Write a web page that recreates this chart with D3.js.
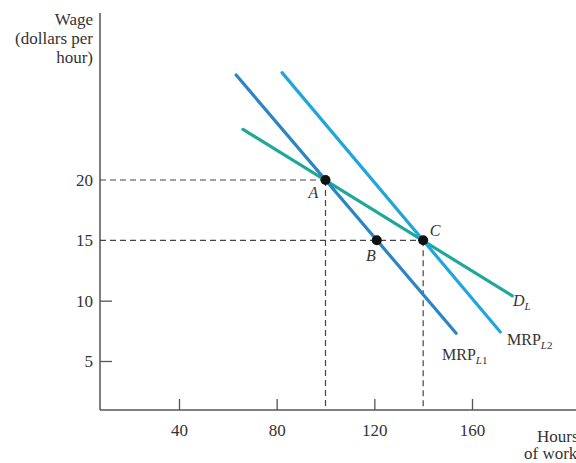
<!DOCTYPE html>
<html><head><meta charset="utf-8">
<script src="https://cdn.jsdelivr.net/npm/d3@7"></script>
<style>
body{margin:0;background:#fff;}
svg text{font-family:"Liberation Serif","Times New Roman",serif;fill:#333;}
</style></head>
<body><svg id="c" width="576" height="463"></svg>
<script>
// ---- data ----
const xTicks = [40, 80, 120, 160];
const yTicks = [5, 10, 15, 20];
const mrpL1 = [[63.4, 28.7], [153.5, 7.3]];
const mrpL2 = [[82.2, 28.9], [171.6, 7.4]];
const demandL = [[66.2, 24.2], [176.5, 10.4]];
const pointNames = ["A", "B", "C"];
const pointHours = [100, 121, 140];
const pointWages = [20, 15, 15];

const svg = d3.select("#c");
const x = d3.scaleLinear().domain([40, 160]).range([179, 472]);
const y = d3.scaleLinear().domain([5, 20]).range([361, 180]);
const x0 = x.invert(100), x1 = x.invert(576);
const y0 = y.invert(410), y1 = y.invert(13);

const axisColor = "#555";
const tickFont = 17;
// x axis
const gx = svg.append("g").attr("transform", `translate(0,${y(y0)})`)
  .call(d3.axisBottom(x).tickValues(xTicks).tickSize(-11).tickPadding(15).tickSizeOuter(0));
gx.select(".domain").remove();
gx.selectAll("line").attr("stroke", axisColor).attr("stroke-width", 1.3);
gx.attr("font-size", tickFont);
gx.selectAll("text").attr("font-size", tickFont).attr("fill", "#333").attr("dy", "0.62em")
  .style("font-family", '"Liberation Serif",serif');
svg.append("line").attr("x1", x(x0)).attr("x2", x(x1)).attr("y1", y(y0)).attr("y2", y(y0))
  .attr("stroke", axisColor).attr("stroke-width", 1.5);

// y axis
const gy = svg.append("g").attr("transform", `translate(${x(x0)},0)`)
  .call(d3.axisLeft(y).tickValues(yTicks).tickSize(-12).tickPadding(7).tickSizeOuter(0));
gy.select(".domain").remove();
gy.attr("font-size", tickFont);
gy.selectAll(".tick line").attr("stroke", axisColor).attr("stroke-width", 1.3)
  .attr("opacity", d => d >= 15 ? 0 : 1);
gy.selectAll("text").attr("font-size", tickFont).attr("fill", "#333")
  .style("font-family", '"Liberation Serif",serif');
svg.append("line").attr("x1", x(x0)).attr("x2", x(x0)).attr("y1", y(y1)).attr("y2", y(y0))
  .attr("stroke", axisColor).attr("stroke-width", 1.5);

// axis titles
const yt = svg.append("text").attr("text-anchor", "end").attr("font-size", 17);
yt.append("tspan").attr("x", 93).attr("y", 25).text("Wage");
yt.append("tspan").attr("x", 93).attr("y", 44).text("(dollars per");
yt.append("tspan").attr("x", 93).attr("y", 63).text("hour)");
svg.append("text").attr("x", 537).attr("y", 442).attr("font-size", 17).text("Hours");
svg.append("text").attr("x", 524).attr("y", 459).attr("font-size", 17).text("of work");

// dashed guides
const pts = pointNames.map((n, i) => ({n, h: pointHours[i], w: pointWages[i]}));
const dash = svg.append("g").attr("stroke", "#444").attr("stroke-width", 1.2).attr("stroke-dasharray", "6,4");
[pts[0], pts[2]].forEach(p => {
  dash.append("line").attr("x1", x(x0)).attr("x2", x(p.h)).attr("y1", y(p.w)).attr("y2", y(p.w));
  dash.append("line").attr("x1", x(p.h)).attr("x2", x(p.h)).attr("y1", y(p.w)).attr("y2", y(y0));
});

// curves
const line = d3.line().x(d => x(d[0])).y(d => y(d[1]));
const curves = [
  {d: demandL, c: "#1fa89a"},
  {d: mrpL2, c: "#1ea6dd"},
  {d: mrpL1, c: "#2a85c6"}
];
curves.forEach(cv => svg.append("path").attr("d", line(cv.d)).attr("fill", "none")
  .attr("stroke", cv.c).attr("stroke-width", 3.2).attr("stroke-linecap", "round"));

// points
svg.selectAll("circle.pt").data(pts).enter().append("circle").attr("class", "pt")
  .attr("cx", d => x(d.h)).attr("cy", d => y(d.w)).attr("r", 5).attr("fill", "#111");

// point labels
const off = {A: [-12, 18], B: [-6, 21], C: [12, -4]};
svg.selectAll("text.pl").data(pts).enter().append("text").attr("class", "pl")
  .attr("x", d => x(d.h) + off[d.n][0]).attr("y", d => y(d.w) + off[d.n][1])
  .attr("text-anchor", "middle").attr("font-size", 16).attr("font-style", "italic").text(d => d.n);

// curve labels
function curveLabel(px, py, main, sub1, sub2, italicMain) {
  const t = svg.append("text").attr("x", px).attr("y", py).attr("font-size", 16);
  t.append("tspan").attr("font-style", italicMain ? "italic" : "normal").text(main);
  t.append("tspan").attr("font-size", 11).attr("dy", 4).attr("font-style", "italic").text(sub1);
  if (sub2) t.append("tspan").attr("font-size", 11).text(sub2);
}
curveLabel(513, 306, "D", "L", "", true);
curveLabel(507, 345, "MRP", "L", "2", false);
curveLabel(442, 360, "MRP", "L", "1", false);
</script></body></html>
